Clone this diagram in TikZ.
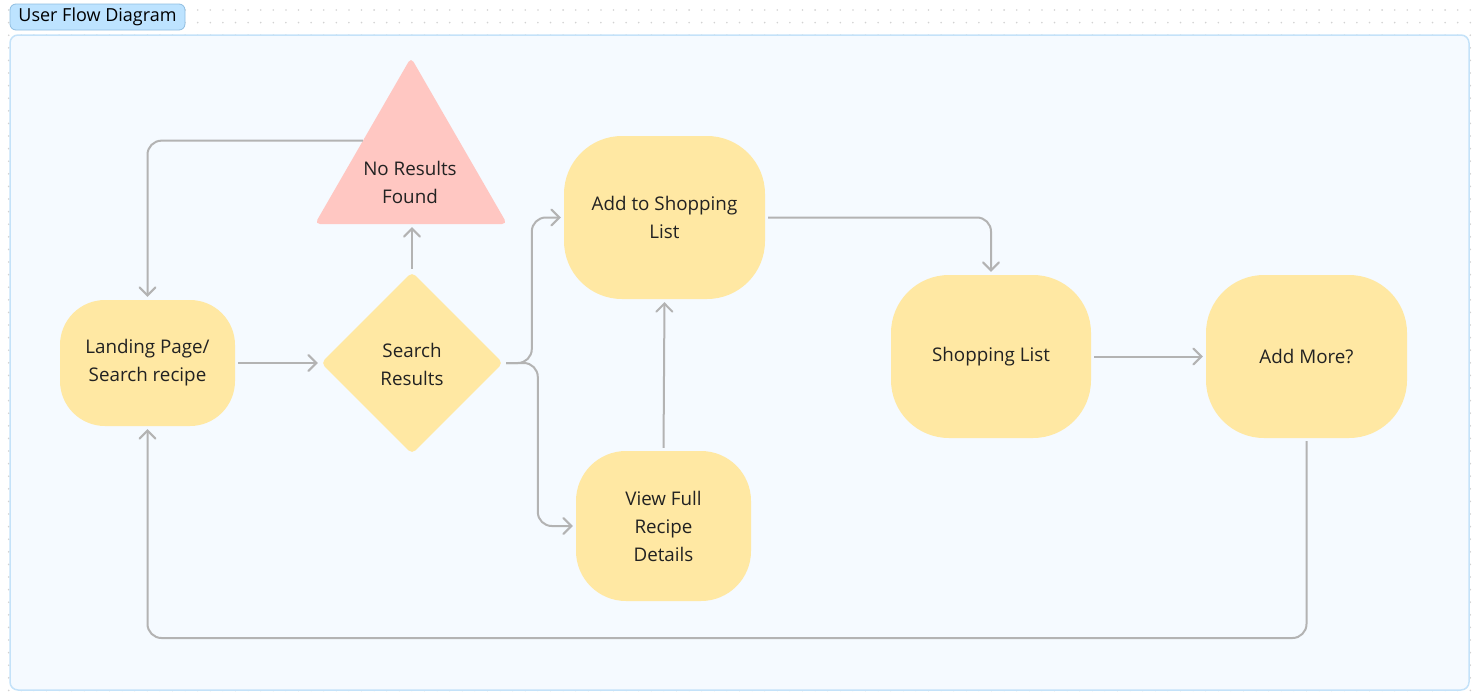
\documentclass[tikz,border=0pt]{standalone}
\usepackage{fontspec}
\setmainfont{Open Sans}
\usetikzlibrary{arrows.meta,shapes.geometric,calc}
\definecolor{boxy}{HTML}{FFE8A3}
\definecolor{pinkt}{HTML}{FFC7C2}
\definecolor{conng}{HTML}{B3B3B3}
\definecolor{txt}{HTML}{222222}
\definecolor{framefill}{HTML}{F5FAFF}
\definecolor{frameline}{HTML}{C4E2F9}
\definecolor{tagfill}{HTML}{BDE3FF}
\definecolor{tagline}{HTML}{8FBDE0}
\definecolor{dotc}{HTML}{D2D2D2}
\tikzset{
  flowbox/.style={rectangle, rounded corners=#1, fill=boxy, text=txt, align=center, inner sep=0pt, font=\fontsize{18.8}{28}\selectfont},
  conn/.style={draw=conng, line width=2pt, rounded corners=14pt, shorten <=3pt, shorten >=3pt, -{Straight Barb[length=8pt,width=16pt,line cap=round]}},
  lbl/.style={text=txt, align=center, font=\fontsize{18.8}{28}\selectfont}
}
\begin{document}
\begin{tikzpicture}[x=1pt,y=-1pt]
\useasboundingbox (0,0) rectangle (1480,696);
% dot grid
\foreach \i in {0,...,117} {
  \foreach \j in {0,...,55} {
    \fill[dotc] ({8.7+12.6*\i},{10+12.6*\j}) circle (0.9);
  }
}
% frame
\draw[fill=framefill, draw=frameline, line width=1.5pt, rounded corners=8pt] (10,35) rectangle (1469,690);
% title tag
\node[rectangle, rounded corners=6pt, fill=tagfill, draw=tagline, line width=0.8pt, minimum width=175pt, minimum height=26pt, inner sep=0pt, text=black, font=\fontsize{18}{20}\selectfont] (title) at (97.5,17) {User Flow Diagram};

% nodes
\node[flowbox=45pt, minimum width=175pt, minimum height=126pt] (land) at (147.5,363) {Landing Page/\\Search recipe};
\node[diamond, aspect=1, fill=boxy, rounded corners=5pt, minimum width=182pt, minimum height=182pt, inner sep=0pt] (sr) at (412,363) {};
\node[lbl] (srtxt) at (412,364) {Search\\Results};
\node[regular polygon, regular polygon sides=3, fill=pinkt, rounded corners=5pt, minimum size=222pt, inner sep=0pt] (nrt) at (411,168.5) {};
\node[lbl] (nrtxt) at (410,182) {No Results\\Found};
\node[flowbox=58pt, minimum width=201pt, minimum height=163pt] (add) at (664.5,217.5) {Add to Shopping\\List};
\node[flowbox=50pt, minimum width=175pt, minimum height=150pt] (view) at (663.5,526) {View Full\\Recipe\\Details};
\node[flowbox=58pt, minimum width=200pt, minimum height=163pt] (shop) at (991,356.5) {Shopping List};
\node[flowbox=58pt, minimum width=201pt, minimum height=163pt] (more) at (1306.5,356.5) {Add More?};
\coordinate (bottomrow) at (0,638);

% connectors
\draw[conn] (land.east) -- (sr.west);
\draw[conn] (sr.north) -- (sr.north |- nrt.side 2);
\draw[conn, shorten <=0pt] (nrt.side 1) -| (land.north);
\draw[conn] (sr.east) -| ($(add.west)+(-32,0)$) -- (add.west);
\draw[conn] (sr.east) -| ($(view.west)+(-38,0)$) -- (view.west);
\draw[conn] (view.north) -- (add.south);
\draw[conn] (add.east) -| (shop.north);
\draw[conn] (shop.east) -- (more.west);
\draw[conn] (more.south) -- (more.south |- bottomrow) -| (land.south);
\end{tikzpicture}
\end{document}
